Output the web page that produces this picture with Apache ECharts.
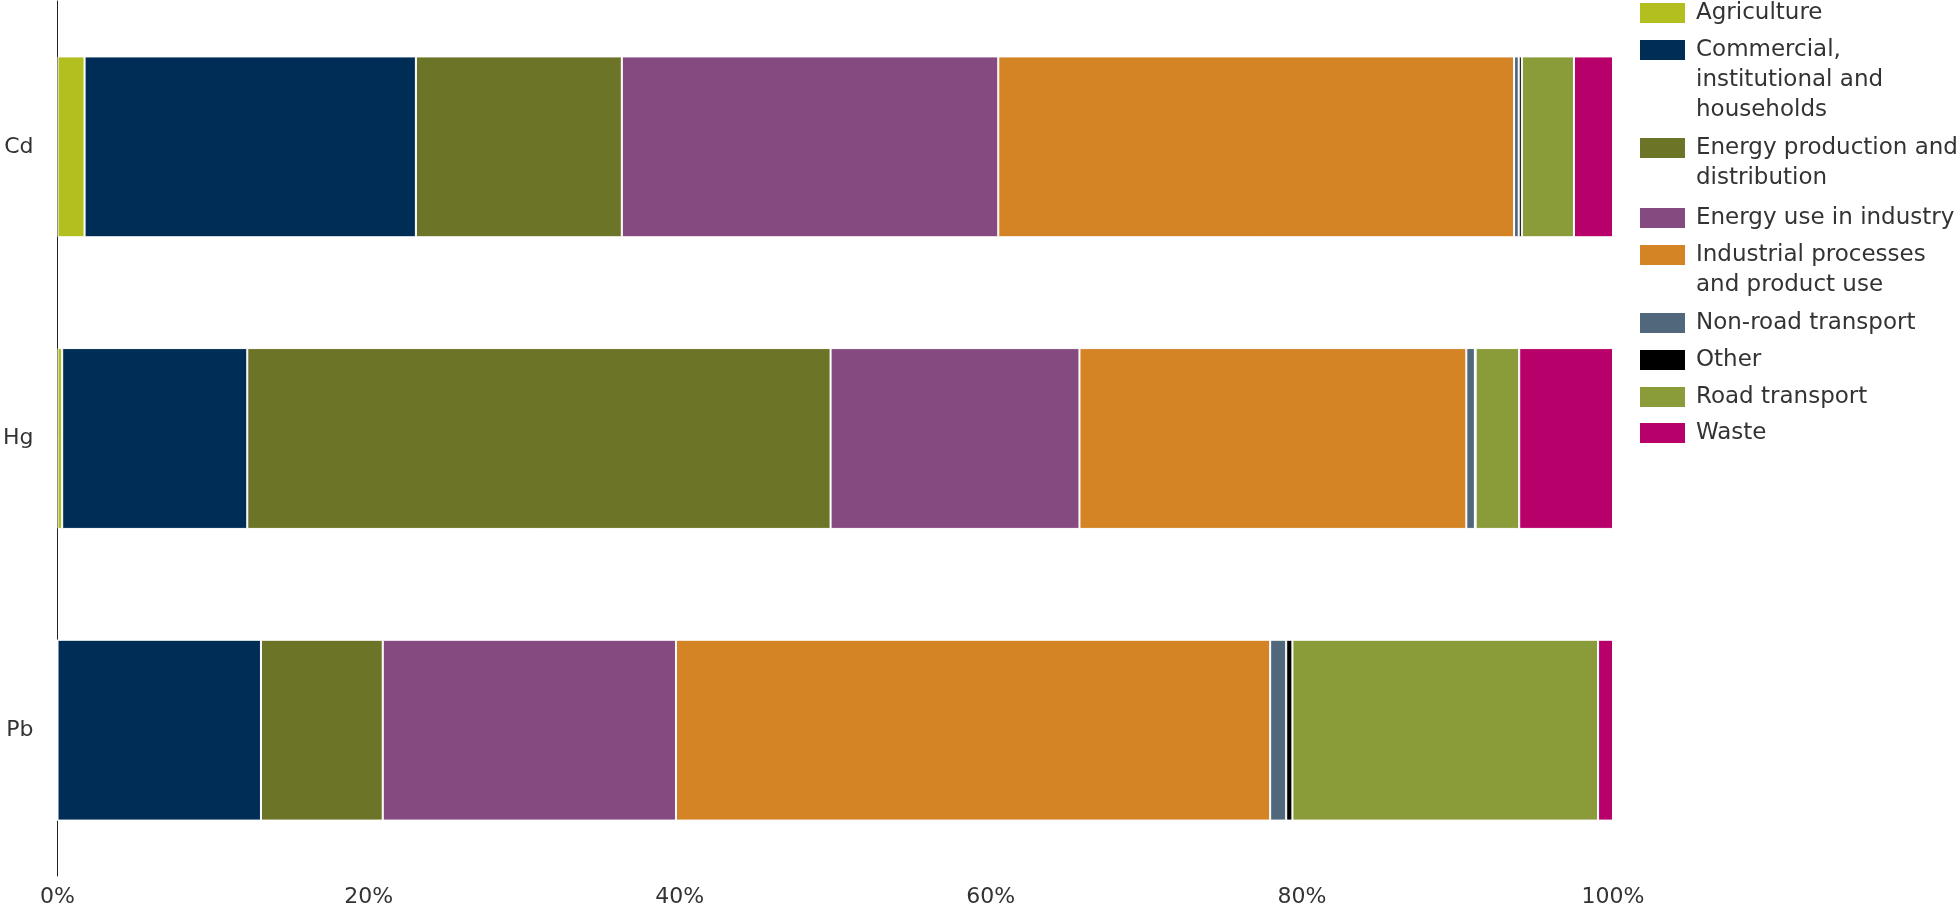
<!DOCTYPE html>
<html>
<head>
<meta charset="utf-8">
<script src="https://cdn.jsdelivr.net/npm/echarts@6/dist/echarts.min.js"></script>
<style>
  html, body { margin: 0; padding: 0; background: #fff; }
  #chart { width: 1960px; height: 913px; }
</style>
</head>
<body>
<div id="chart"></div>
<script>
// ---- data ----
const categories = ['Cd', 'Hg', 'Pb'];
const seriesNames = [
  'Agriculture',
  'Commercial, institutional and households',
  'Energy production and distribution',
  'Energy use in industry',
  'Industrial processes and product use',
  'Non-road transport',
  'Other',
  'Road transport',
  'Waste'
];
const legendLabels = [
  'Agriculture',
  'Commercial,\ninstitutional and\nhouseholds',
  'Energy production and\ndistribution',
  'Energy use in industry',
  'Industrial processes\nand product use',
  'Non-road transport',
  'Other',
  'Road transport',
  'Waste'
];
const agriculture = [1.74, 0.3, 0];
const commercial  = [21.3, 11.9, 13.08];
const energyProd  = [13.24, 37.5, 7.83];
const energyUse   = [24.2, 16.0, 18.85];
const industrial  = [33.16, 24.87, 38.2];
const nonRoad     = [0.3, 0.55, 1.03];
const other       = [0.2, 0.05, 0.4];
const road        = [3.35, 2.8, 19.65];
const waste       = [2.51, 6.03, 0.96];
const xTicks = [0, 20, 40, 60, 80, 100];

const seriesValues = [agriculture, commercial, energyProd, energyUse, industrial, nonRoad, other, road, waste];
const colors = ['#b3be1f', '#002d56', '#6c7427', '#854a80', '#d48424', '#51677c', '#000000', '#8a9b39', '#b8006b'];

const FONT = 'DejaVu Sans';
const chart = echarts.init(document.getElementById('chart'), null, { renderer: 'canvas' });

// legend layout: one legend per item so the icon aligns with the first text line
const legendIconCenters = [13, 50, 148, 218, 255, 323, 360, 397, 433];
const legends = seriesNames.map((name, i) => {
  const nLines = legendLabels[i].split('\n').length;
  // prepend empty lines so the first real line sits at the icon's centre
  const shown = '\n'.repeat(nLines - 1) + legendLabels[i];
  return {
    data: [name],
    orient: 'vertical',
    left: 1638,
    top: Math.round(legendIconCenters[i] - 15 * (2 * nLines - 1)),
    padding: 0,
    itemWidth: 47,
    itemHeight: 22,
    icon: 'rect',
    selectedMode: false,
    formatter: () => shown,
    textStyle: {
      fontFamily: FONT,
      fontSize: 23,
      lineHeight: 30,
      color: '#333',
      padding: [0, 0, 0, 5]
    }
  };
});

const option = {
  animation: false,
  backgroundColor: '#fff',
  color: colors,
  grid: { left: 57, right: 347, top: 1, bottom: 37, containLabel: false },
  legend: legends,
  xAxis: {
    type: 'value',
    min: xTicks[0],
    max: xTicks[xTicks.length - 1],
    interval: xTicks[1] - xTicks[0],
    axisLine: { show: false },
    axisTick: { show: false },
    splitLine: { show: false },
    axisLabel: {
      formatter: '{value}%',
      fontFamily: FONT,
      fontSize: 22,
      color: '#333',
      margin: 10
    }
  },
  yAxis: {
    type: 'category',
    data: categories,
    inverse: true,
    axisLine: { show: true, lineStyle: { color: '#222', width: 1 } },
    axisTick: { show: false },
    splitLine: { show: false },
    axisLabel: { fontFamily: FONT, fontSize: 22, color: '#333', margin: 24 }
  },
  series: seriesNames.map((name, i) => ({
    name: name,
    type: 'bar',
    stack: 'total',
    barWidth: '62%',
    data: seriesValues[i],
    itemStyle: { color: colors[i], borderColor: '#ffffff', borderWidth: 1 }
  }))
};
chart.setOption(option);
</script>
</body>
</html>
